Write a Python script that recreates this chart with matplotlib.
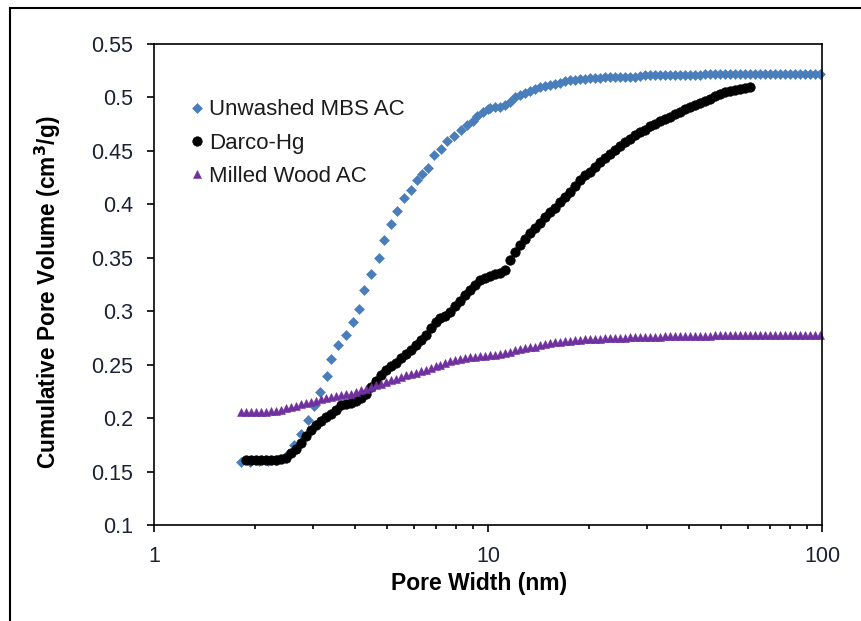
#cumulative pore volume curves for the three carbons

import matplotlib
matplotlib.use('Agg')
import matplotlib.pyplot as plt
from matplotlib.lines import Line2D
from matplotlib.ticker import FixedLocator, LogLocator, NullFormatter, FuncFormatter


# pore width grid (nm) shared by the dense parts of the curves
pore_width = [
	1.820, 1.884, 1.950, 2.018, 2.089, 2.162, 2.237, 2.316, 2.397, 2.481,
	2.567, 2.657, 2.750, 2.847, 2.946, 3.050, 3.156, 3.267, 3.381, 3.499,
	3.622, 3.749, 3.880, 4.016, 4.156, 4.302, 4.452, 4.608, 4.769, 4.936,
	5.109, 5.288, 5.473, 5.664, 5.862, 6.068, 6.280, 6.500, 6.727, 6.963,
	7.206, 7.458, 7.719, 7.990, 8.269, 8.559, 8.858, 9.168, 9.489, 9.821,
	10.16, 10.52, 10.89, 11.27, 11.66, 12.07, 12.49, 12.93, 13.38, 13.85,
	14.34, 14.84, 15.36, 15.90, 16.45, 17.03, 17.62, 18.24, 18.88, 19.54,
	20.22, 20.93, 21.66, 22.42, 23.21, 24.02, 24.86, 25.73, 26.63, 27.56,
	28.53, 29.53, 30.56, 31.63, 32.74, 33.88, 35.07, 36.30, 37.57, 38.88,
	40.24, 41.65, 43.11, 44.62, 46.18, 47.80, 49.47, 51.20, 52.99, 54.85,
	56.77, 58.75, 60.81, 62.94, 65.14, 67.42, 69.78, 72.23, 74.75, 77.37,
	80.08, 82.88, 85.78, 88.78, 91.89, 95.10, 98.43]

# Unwashed MBS AC: sparse points up to ~10 nm, then the dense grid
mbs_width_low = [
	1.82, 1.94, 2.06, 2.19, 2.33, 2.52, 2.62, 2.75, 2.90, 3.01,
	3.13, 3.29, 3.39, 3.56, 3.76, 3.93, 4.12, 4.26, 4.46, 4.70,
	4.87, 5.11, 5.35, 5.60, 5.87, 6.14, 6.36, 6.59, 6.89, 7.21,
	7.55, 7.89, 8.28, 8.63, 8.99, 9.30, 9.63, 9.97]
mbs_vol_low = [
	0.159, 0.159, 0.160, 0.160, 0.161, 0.166, 0.175, 0.185, 0.198, 0.211,
	0.224, 0.239, 0.255, 0.268, 0.278, 0.290, 0.302, 0.320, 0.335, 0.350,
	0.367, 0.382, 0.394, 0.406, 0.413, 0.423, 0.428, 0.434, 0.446, 0.452,
	0.459, 0.464, 0.470, 0.474, 0.478, 0.483, 0.486, 0.489]
mbs_vol_high = [
	0.490, 0.491, 0.491, 0.493, 0.496, 0.500, 0.502, 0.504, 0.506, 0.508,
	0.510, 0.511, 0.512, 0.513, 0.514, 0.515, 0.516, 0.516, 0.517, 0.517,
	0.518, 0.518, 0.518, 0.519, 0.519, 0.519, 0.519, 0.519, 0.519, 0.519,
	0.520, 0.521, 0.521, 0.521, 0.521, 0.521, 0.521, 0.521, 0.521, 0.521,
	0.521, 0.521, 0.521, 0.522, 0.522, 0.522, 0.522, 0.522, 0.522, 0.522,
	0.522, 0.522, 0.522, 0.522, 0.522, 0.522, 0.522, 0.522, 0.522, 0.522,
	0.522, 0.522, 0.522, 0.522, 0.522, 0.522, 0.522]

# Darco-Hg on pore_width[1:103]
darco_vol = [
	0.161, 0.161, 0.161, 0.161, 0.161, 0.161, 0.161, 0.162, 0.163,
	0.167, 0.171, 0.177, 0.183, 0.189, 0.194, 0.197, 0.201, 0.204, 0.208,
	0.212, 0.213, 0.214, 0.216, 0.219, 0.223, 0.229, 0.235, 0.240, 0.245,
	0.249, 0.252, 0.256, 0.260, 0.264, 0.268, 0.273, 0.278, 0.284, 0.290,
	0.294, 0.296, 0.299, 0.305, 0.310, 0.315, 0.320, 0.325, 0.329, 0.331,
	0.333, 0.335, 0.336, 0.339, 0.348, 0.355, 0.362, 0.368, 0.373, 0.378,
	0.383, 0.388, 0.393, 0.397, 0.402, 0.407, 0.412, 0.417, 0.423, 0.427,
	0.430, 0.435, 0.440, 0.443, 0.447, 0.451, 0.455, 0.458, 0.461, 0.465,
	0.468, 0.470, 0.473, 0.475, 0.478, 0.480, 0.482, 0.485, 0.486, 0.489,
	0.491, 0.493, 0.495, 0.497, 0.499, 0.501, 0.503, 0.505, 0.506, 0.507,
	0.508, 0.509, 0.510]

# Milled Wood AC on the whole grid
wood_vol = [
	0.206, 0.206, 0.206, 0.206, 0.206, 0.206, 0.207, 0.207, 0.208, 0.209,
	0.210, 0.211, 0.213, 0.214, 0.215, 0.216, 0.218, 0.219, 0.220, 0.221,
	0.222, 0.223, 0.223, 0.224, 0.226, 0.227, 0.229, 0.231, 0.232, 0.234,
	0.236, 0.237, 0.238, 0.240, 0.241, 0.242, 0.244, 0.245, 0.247, 0.249,
	0.250, 0.252, 0.253, 0.254, 0.255, 0.256, 0.257, 0.257, 0.258, 0.258,
	0.259, 0.259, 0.260, 0.261, 0.262, 0.264, 0.265, 0.266, 0.267, 0.267,
	0.268, 0.269, 0.270, 0.271, 0.271, 0.272, 0.272, 0.273, 0.273, 0.274,
	0.274, 0.274, 0.274, 0.275, 0.275, 0.275, 0.275, 0.275, 0.276, 0.276,
	0.276, 0.276, 0.276, 0.276, 0.276, 0.277, 0.277, 0.277, 0.277, 0.277,
	0.277, 0.277, 0.277, 0.277, 0.277, 0.278, 0.278, 0.278, 0.278, 0.278,
	0.278, 0.278, 0.278, 0.278, 0.278, 0.278, 0.278, 0.278, 0.278, 0.278,
	0.278, 0.278, 0.278, 0.278, 0.278, 0.278, 0.278]

series_names = ['Unwashed MBS AC', 'Darco-Hg', 'Milled Wood AC']
x_ticks = [1, 10, 100]
x_tick_labels = ['1', '10', '100']
y_ticks = [0.1, 0.15, 0.2, 0.25, 0.3, 0.35, 0.4, 0.45, 0.5, 0.55]


def show_chart():
	plt.rcParams['font.family'] = ['Liberation Sans', 'DejaVu Sans']

	fig = plt.figure(figsize=(8.61, 6.21), dpi=100)
	ax = fig.add_axes([0.1789, 0.1546, 0.7758, 0.7745])

	mbs_width = mbs_width_low + pore_width[50:]
	mbs_vol = mbs_vol_low + mbs_vol_high

	ax.plot(mbs_width, mbs_vol, linestyle='none', marker='D', markersize=5.0,
		color='#4a7ebb', markeredgewidth=0.4, label=series_names[0], clip_on=False)
	ax.plot(pore_width[1:103], darco_vol, linestyle='none', marker='o', markersize=6.8,
		color='black', markeredgewidth=0.5, label=series_names[1])
	ax.plot(pore_width, wood_vol, linestyle='none', marker='^', markersize=5.8,
		color='#7030a0', markeredgewidth=0.4, label=series_names[2], clip_on=False)

	ax.set_xscale('log')
	ax.set_xlim(1, 100)
	ax.set_ylim(0.1, 0.55)

	ax.xaxis.set_major_locator(FixedLocator(x_ticks))
	ax.set_xticklabels(x_tick_labels)
	ax.xaxis.set_minor_locator(LogLocator(base=10, subs=[2, 3, 4, 5, 6, 7, 8, 9]))
	ax.xaxis.set_minor_formatter(NullFormatter())
	ax.set_yticks(y_ticks)
	ax.yaxis.set_major_formatter(FuncFormatter(lambda v, p: '%g' % v))

	for s in ax.spines.values():
		s.set_linewidth(1.2)
	ax.tick_params(which='major', direction='out', length=5, width=1.2,
		labelsize=15.5, pad=10, labelcolor='#1c2233')
	ax.tick_params(which='minor', direction='out', length=3, width=1.2)

	ax.set_xlabel('Pore Width (nm)', fontsize=16.5, fontweight='bold')
	ax.xaxis.set_label_coords(0.487, -0.098)
	ax.set_ylabel('Cumulative Pore Volume (cm$^{\\mathbf{3}}$/g)', fontsize=16.3, fontweight='bold')
	ax.yaxis.set_label_coords(-0.137, 0.484)

	leg = ax.legend(loc='upper left', bbox_to_anchor=(0.056, 0.885), frameon=False,
		borderpad=0, borderaxespad=0, handlelength=0.5, handletextpad=0.3,
		labelspacing=0.55, fontsize=16, numpoints=1, markerscale=1.0)
	for t in leg.get_texts():
		t.set_color('#1c1c1c')

	# outer frame lines of the original figure
	fig.add_artist(Line2D([10 / 861, 10 / 861], [0, 1 - 8 / 621], color='black', linewidth=1.5))
	fig.add_artist(Line2D([10 / 861, 1], [1 - 8 / 621, 1 - 8 / 621], color='black', linewidth=1.5))

	fig.savefig('out.png', dpi=100)


if __name__ == '__main__':
	show_chart()
